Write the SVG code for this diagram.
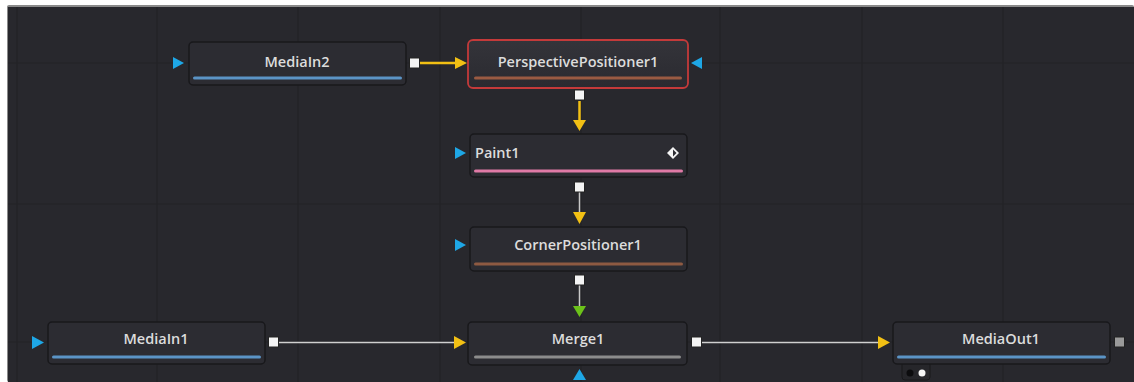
<svg xmlns="http://www.w3.org/2000/svg" width="1134" height="382" viewBox="0 0 1134 382">
<defs>
<style>
.node{fill:#2c2c32;stroke:#18181b;stroke-width:1.5}
.lbl{font-family:"Open Sans","Noto Sans",sans-serif;font-size:14.5px;font-weight:600;fill:#dcdcdc;text-anchor:middle}
.grid{stroke:#222226;stroke-width:1.2}
.sq{fill:#f4f4f4;stroke:#222;stroke-width:1}
.blue{fill:#1ea7e6}
.yel{fill:#f2c014}
</style>
<linearGradient id="ng" x1="0" y1="0" x2="0" y2="1">
<stop offset="0" stop-color="#34343a"/>
<stop offset="1" stop-color="#2a2a30"/>
</linearGradient>
</defs>
<rect width="1134" height="382" fill="#ffffff"/>
<rect x="7" y="5" width="1127" height="377" rx="2" fill="#8a8a8a"/>
<rect x="8" y="7" width="1126" height="375" fill="#28282d"/>
<g id="grid">
<line class="grid" x1="17" y1="7" x2="17" y2="382"/>
<line class="grid" x1="157" y1="7" x2="157" y2="382"/>
<line class="grid" x1="298" y1="7" x2="298" y2="382"/>
<line class="grid" x1="440" y1="7" x2="440" y2="382"/>
<line class="grid" x1="581" y1="7" x2="581" y2="382"/>
<line class="grid" x1="720" y1="7" x2="720" y2="382"/>
<line class="grid" x1="862" y1="7" x2="862" y2="382"/>
<line class="grid" x1="1003" y1="7" x2="1003" y2="382"/>
<line class="grid" x1="8" y1="63" x2="1134" y2="63"/>
<line class="grid" x1="8" y1="204" x2="1134" y2="204"/>
<line class="grid" x1="8" y1="342" x2="1134" y2="342"/>
</g>
<g id="connectors">
<line x1="420" y1="63" x2="457" y2="63" stroke="#f2c014" stroke-width="2.5"/>
<polygon class="yel" points="455,57 467,63 455,69"/>
<line x1="579.5" y1="101" x2="579.5" y2="121" stroke="#f2c014" stroke-width="2.5"/>
<polygon class="yel" points="573,120 586,120 579.5,131"/>
<line x1="579.5" y1="192" x2="579.5" y2="213" stroke="#c8c8c8" stroke-width="1.5"/>
<polygon class="yel" points="573,212 586,212 579.5,224"/>
<line x1="579.5" y1="285" x2="579.5" y2="307" stroke="#c8c8c8" stroke-width="1.5"/>
<polygon fill="#6cc21a" points="573,306 586,306 579.5,317"/>
<line x1="279" y1="342.5" x2="456" y2="342.5" stroke="#d0d0d0" stroke-width="1.5"/>
<polygon class="yel" points="454,336 466,342.5 454,349"/>
<line x1="702" y1="342.5" x2="880" y2="342.5" stroke="#d0d0d0" stroke-width="1.5"/>
<polygon class="yel" points="878,336 890,342.5 878,349"/>
</g>
<g id="MediaIn2">
<rect class="node" x="189" y="42" width="217" height="43" rx="4" fill="url(#ng)"/>
<rect x="193" y="76.5" width="209" height="3" rx="1.5" fill="#5b94c6"/>
<text class="lbl" x="297" y="67">MediaIn2</text>
<polygon class="blue" points="173,57 184,63 173,69"/>
<rect class="sq" x="409.5" y="58" width="10" height="10"/>
</g>
<g id="PerspectivePositioner1">
<rect x="468" y="40" width="220" height="48" rx="5" fill="url(#ng)" stroke="#c43a3a" stroke-width="1.8"/>
<rect x="474" y="76.5" width="208" height="3" rx="1.5" fill="#9a5a42"/>
<text class="lbl" x="578" y="67">PerspectivePositioner1</text>
<polygon class="blue" points="702,57 691,63 702,69"/>
<rect class="sq" x="574.5" y="90" width="10" height="10"/>
</g>
<g id="Paint1">
<rect class="node" x="470" y="134" width="217" height="43" rx="4" fill="url(#ng)"/>
<rect x="474" y="169.5" width="209" height="3" rx="1.5" fill="#e07aa6"/>
<text class="lbl" x="475" y="158" style="text-anchor:start">Paint1</text>
<polygon fill="#f4f4f4" points="673,147 679,153 673,159 667,153"/>
<polygon fill="#2c2c32" points="673,149.5 676.5,153 673,156.5"/>
<polygon class="blue" points="455,147 466,153 455,159"/>
<rect class="sq" x="574.5" y="182" width="10" height="10"/>
</g>
<g id="CornerPositioner1">
<rect class="node" x="470" y="227" width="217" height="44" rx="4" fill="url(#ng)"/>
<rect x="474" y="262.5" width="209" height="3" rx="1.5" fill="#8e5a42"/>
<text class="lbl" x="578" y="250">CornerPositioner1</text>
<polygon class="blue" points="455,239 466,245 455,251"/>
<rect class="sq" x="574.5" y="275" width="10" height="10"/>
</g>
<g id="MediaIn1">
<rect class="node" x="48" y="322" width="217" height="42" rx="4" fill="url(#ng)"/>
<rect x="52" y="355.5" width="209" height="3" rx="1.5" fill="#5b94c6"/>
<text class="lbl" x="156" y="344">MediaIn1</text>
<polygon class="blue" points="32,336 44,342.5 32,349"/>
<rect class="sq" x="268.5" y="337" width="10" height="10"/>
</g>
<g id="Merge1">
<rect class="node" x="468" y="322" width="219" height="43" rx="4" fill="url(#ng)"/>
<rect x="474" y="355.5" width="207" height="3" rx="1.5" fill="#8c8c8c"/>
<text class="lbl" x="578" y="344">Merge1</text>
<polygon class="blue" points="573,380 586,380 579.5,369"/>
<rect class="sq" x="691.5" y="337" width="10" height="10"/>
</g>
<g id="MediaOut1">
<rect x="902" y="360" width="28" height="20" rx="3" fill="#26262a" stroke="#18181b"/>
<circle cx="910" cy="373" r="3.5" fill="#0c0c0e"/>
<circle cx="922" cy="373" r="3.5" fill="#f4f4f4"/>
<rect class="node" x="893" y="322" width="217" height="42" rx="4" fill="url(#ng)"/>
<rect x="897" y="355.5" width="209" height="3" rx="1.5" fill="#5b94c6"/>
<text class="lbl" x="1001" y="344">MediaOut1</text>
<rect x="1114.5" y="337" width="10" height="10" fill="#9a9a9a" stroke="#222"/>
</g>
</svg>
